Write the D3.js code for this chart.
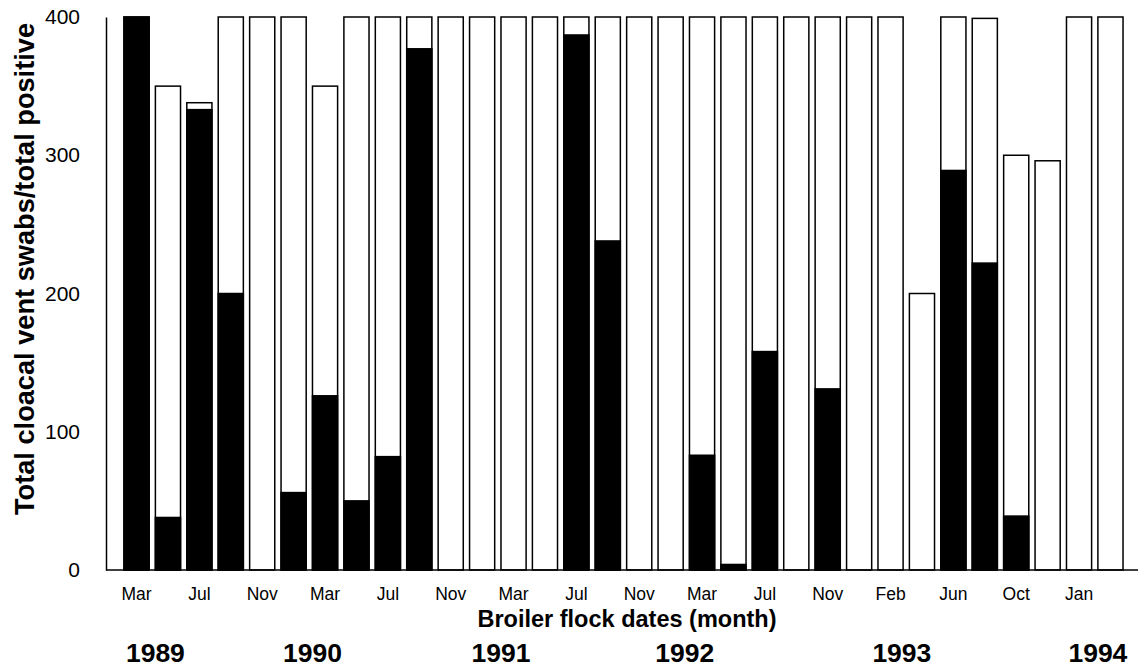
<!DOCTYPE html>
<html>
<head>
<meta charset="utf-8">
<script src="https://cdn.jsdelivr.net/npm/d3@7"></script>
<style>
  html, body { margin: 0; padding: 0; background: #fff; }
  svg { display: block; font-family: "Liberation Sans", Arial, sans-serif; }
</style>
</head>
<body>
<div id="chart"></div>
<script>
// ---------------------------------------------------------------------
// Data
// ---------------------------------------------------------------------
const totalSwabs = [400, 350, 338, 400, 400, 400, 350, 400, 400, 400, 400, 400, 400, 400, 400, 400,
                    400, 400, 400, 400, 400, 400, 400, 400, 400, 200, 400, 399, 300, 296, 400, 400];
const totalPositive = [400, 38, 333, 200, 0, 56, 126, 50, 82, 377, 0, 0, 0, 0, 387, 238,
                       0, 0, 83, 4, 158, 0, 131, 0, 0, 0, 289, 222, 39, 0, 0, 0];
const monthLabels = ["Mar", "", "Jul", "", "Nov", "", "Mar", "", "Jul", "", "Nov", "", "Mar", "", "Jul", "",
                     "Nov", "", "Mar", "", "Jul", "", "Nov", "", "Feb", "", "Jun", "", "Oct", "", "Jan", ""];
const yearLabels = ["1989", "1990", "1991", "1992", "1993", "1994"];
const yearAtFlock = [1, 6, 12, 17.85, 24.76, 31];   // flock index where each year label sits
const yTicks = [0, 100, 200, 300, 400];

// ---------------------------------------------------------------------
// Layout
// ---------------------------------------------------------------------
const width = 1138, height = 668;
const svg = d3.select('#chart').append('svg')
    .attr('width', width)
    .attr('height', height);

const flocks = d3.range(totalSwabs.length);

const x = d3.scaleBand()
    .domain(flocks)
    .range([118, 1129])
    .paddingInner(0.2)
    .paddingOuter(0.19);

const y = d3.scaleLinear()
    .domain([0, 400])
    .range([570, 17]);

const xPos = i => x(0) + i * x.step();

// ---------------------------------------------------------------------
// Bars
// ---------------------------------------------------------------------
const bars = svg.append('g').selectAll('g')
    .data(flocks)
    .join('g');

bars.append('rect')
    .attr('x', d => x(d))
    .attr('y', d => y(totalSwabs[d]))
    .attr('width', x.bandwidth())
    .attr('height', d => y(0) - y(totalSwabs[d]))
    .attr('fill', '#fff')
    .attr('stroke', '#000')
    .attr('stroke-width', 1.5);

bars.filter(d => totalPositive[d] > 0).append('rect')
    .attr('x', d => x(d))
    .attr('y', d => y(totalPositive[d]))
    .attr('width', x.bandwidth())
    .attr('height', d => y(0) - y(totalPositive[d]))
    .attr('fill', '#000')
    .attr('stroke', '#000')
    .attr('stroke-width', 1.5);

// ---------------------------------------------------------------------
// Axes
// ---------------------------------------------------------------------
const yAxis = svg.append('g')
    .attr('transform', 'translate(106,0)')
    .call(d3.axisLeft(y).tickValues(yTicks).tickSize(0).tickPadding(26));
yAxis.select('.domain').attr('stroke-width', 1.5);
yAxis.selectAll('text')
    .attr('font-size', 21)
    .attr('font-family', '"Liberation Sans", Arial, sans-serif')
    .attr('fill', '#000');

svg.append('line')
    .attr('x1', 106).attr('x2', width)
    .attr('y1', y(0)).attr('y2', y(0))
    .attr('stroke', '#000')
    .attr('stroke-width', 1.5);

const xAxis = svg.append('g')
    .attr('transform', `translate(0,${y(0)})`)
    .call(d3.axisBottom(x)
        .tickValues(flocks.filter(d => monthLabels[d] !== ''))
        .tickFormat(d => monthLabels[d])
        .tickSize(0)
        .tickPadding(18));
xAxis.select('.domain').remove();
xAxis.selectAll('text')
    .attr('font-size', 17.5)
    .attr('font-family', '"Liberation Sans", Arial, sans-serif')
    .attr('fill', '#000');

// Year labels
svg.append('g').selectAll('text')
    .data(yearLabels)
    .join('text')
    .attr('x', (d, i) => xPos(yearAtFlock[i]))
    .attr('y', 662)
    .attr('text-anchor', 'middle')
    .attr('font-size', 26.5)
    .attr('font-weight', 'bold')
    .text(d => d);

// ---------------------------------------------------------------------
// Axis titles
// ---------------------------------------------------------------------
svg.append('text')
    .attr('x', 627)
    .attr('y', 627)
    .attr('text-anchor', 'middle')
    .attr('font-size', 23.5)
    .attr('font-weight', 'bold')
    .text('Broiler flock dates (month)');

svg.append('text')
    .attr('transform', 'translate(34,269) rotate(-90)')
    .attr('text-anchor', 'middle')
    .attr('font-size', 27.2)
    .attr('font-weight', 'bold')
    .text('Total cloacal vent swabs/total positive');
</script>
</body>
</html>
